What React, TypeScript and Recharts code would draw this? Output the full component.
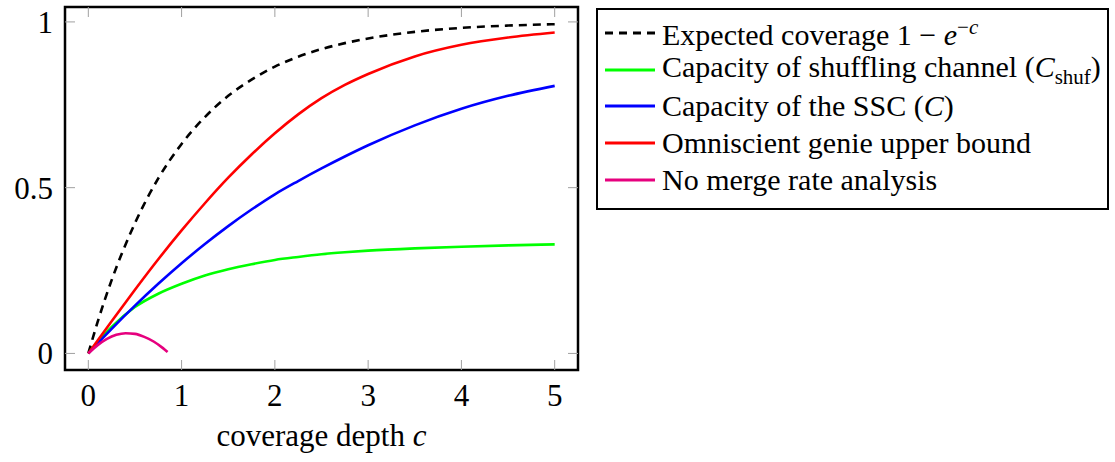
import React from 'react';
import {LineChart, Line, XAxis, YAxis, ReferenceArea} from 'recharts';

// coverage depth c sample points
const cMain = [0, 0.1, 0.25, 0.5, 0.75, 1, 1.25, 1.5, 1.75, 2, 2.25, 2.5, 2.75, 3, 3.5, 4, 4.5, 5];
const expectedCov = [0, 0.095, 0.221, 0.393, 0.528, 0.632, 0.713, 0.777, 0.826, 0.865, 0.895, 0.918, 0.936, 0.95, 0.97, 0.982, 0.989, 0.993];
const shufCap = [0, 0.034, 0.08, 0.14, 0.18, 0.21, 0.235, 0.254, 0.269, 0.282, 0.291, 0.299, 0.305, 0.31, 0.317, 0.322, 0.326, 0.329];
const sscCap = [0, 0.03, 0.074, 0.144, 0.21, 0.272, 0.33, 0.384, 0.434, 0.48, 0.52, 0.558, 0.594, 0.628, 0.688, 0.738, 0.777, 0.807];
const genieBound = [0, 0.039, 0.097, 0.192, 0.284, 0.371, 0.453, 0.53, 0.6, 0.664, 0.721, 0.77, 0.81, 0.843, 0.896, 0.931, 0.953, 0.968];

const cMerge = [0, 0.1, 0.2, 0.3, 0.4, 0.5, 0.6, 0.7, 0.8, 0.85];
const noMerge = [0, 0.025, 0.044, 0.056, 0.061, 0.059, 0.05, 0.036, 0.016, 0.004];

const xTicks = [0, 1, 2, 3, 4, 5];
const yTicks = [0, 0.5, 1];

const mainData = cMain.map((c, i) => ({
  c,
  expected: expectedCov[i],
  shuf: shufCap[i],
  ssc: sscCap[i],
  genie: genieBound[i],
}));
const mergeData = cMerge.map((c, i) => ({c, merge: noMerge[i]}));

const W = 1115;
const H = 462;
const LEFT = 65;
const RIGHT = 578;
const TOP = 7;
const BOTTOM = 370;
const FONT = '"Liberation Serif", "Times New Roman", serif';
const TICK_GREY = '#a0a0a0';

const XTick = (props: any) => {
  const {x, payload} = props;
  return (
    <g>
      <line x1={x} x2={x} y1={BOTTOM} y2={BOTTOM - 10} stroke={TICK_GREY} strokeWidth={1} />
      <line x1={x} x2={x} y1={TOP} y2={TOP + 10} stroke={TICK_GREY} strokeWidth={1} />
      <text x={x} y={406} textAnchor="middle" style={{fontFamily: FONT}} fontSize={31} fill="#000">
        {payload.value}
      </text>
    </g>
  );
};

const YTick = (props: any) => {
  const {y, payload} = props;
  return (
    <g>
      <line x1={LEFT} x2={LEFT + 10} y1={y} y2={y} stroke={TICK_GREY} strokeWidth={1} />
      <line x1={RIGHT} x2={RIGHT - 10} y1={y} y2={y} stroke={TICK_GREY} strokeWidth={1} />
      <text x={53} y={y + 11} textAnchor="end" style={{fontFamily: FONT}} fontSize={31} fill="#000">
        {payload.value}
      </text>
    </g>
  );
};

const legendItems = [
  {color: '#000', dashed: true, label: <>Expected coverage 1 − <i>e</i><sup style={{fontSize: '0.7em'}}>−<i>c</i></sup></>},
  {color: '#00ff00', dashed: false, label: <>Capacity of shuffling channel (<i>C</i><sub style={{fontSize: '0.7em'}}>shuf</sub>)</>},
  {color: '#0000ff', dashed: false, label: <>Capacity of the SSC (<i>C</i>)</>},
  {color: '#ff0000', dashed: false, label: <>Omniscient genie upper bound</>},
  {color: '#e6007e', dashed: false, label: <>No merge rate analysis</>},
];

export default function App() {
  return (
    <div style={{position: 'absolute', left: 0, top: 0, width: W, height: H, background: '#fff', fontFamily: FONT}}>
      <LineChart width={W} height={H} margin={{top: TOP, right: W - RIGHT, left: 10, bottom: 0}}>
        <XAxis
          dataKey="c"
          type="number"
          domain={[-0.25, 5.25]}
          ticks={xTicks}
          allowDataOverflow
          axisLine={false}
          tickLine={false}
          tick={<XTick />}
          height={H - BOTTOM}
          interval={0}
        />
        <YAxis
          type="number"
          domain={[-0.05, 1.045]}
          ticks={yTicks}
          allowDataOverflow
          axisLine={false}
          tickLine={false}
          tick={<YTick />}
          width={LEFT - 10}
          interval={0}
        />
        <ReferenceArea x1={-0.25} x2={5.25} y1={-0.05} y2={1.045} fill="none" stroke="#000" strokeWidth={2.5} />
        <Line data={mainData} dataKey="expected" type="monotone" stroke="#000" strokeWidth={2.6} strokeDasharray="8 6" dot={false} isAnimationActive={false} />
        <Line data={mainData} dataKey="shuf" type="monotone" stroke="#00ff00" strokeWidth={2.6} dot={false} isAnimationActive={false} />
        <Line data={mainData} dataKey="ssc" type="monotone" stroke="#0000ff" strokeWidth={2.6} dot={false} isAnimationActive={false} />
        <Line data={mainData} dataKey="genie" type="monotone" stroke="#ff0000" strokeWidth={2.6} dot={false} isAnimationActive={false} />
        <Line data={mergeData} dataKey="merge" type="monotone" stroke="#e6007e" strokeWidth={2.6} dot={false} isAnimationActive={false} />
      </LineChart>
      <div style={{position: 'absolute', left: 0, width: 643, top: 418, textAlign: 'center', fontFamily: FONT, fontSize: 31}}>
        coverage depth <i>c</i>
      </div>
      <div
        style={{
          position: 'absolute',
          left: 596,
          top: 8,
          width: 513,
          height: 202,
          border: '2.5px solid #000',
          fontFamily: FONT,
          fontSize: 30,
          paddingTop: 5,
          boxSizing: 'border-box',
        }}
      >
        {legendItems.map((it, i) => (
          <div key={i} style={{display: 'flex', alignItems: 'center', height: 36.6, whiteSpace: 'nowrap'}}>
            <svg width={64} height={10} style={{flex: 'none'}}>
              <line
                x1={7}
                x2={57}
                y1={5}
                y2={5}
                stroke={it.color}
                strokeWidth={2.8}
                strokeDasharray={it.dashed ? '8 6' : undefined}
              />
            </svg>
            <span style={{lineHeight: 1}}>{it.label}</span>
          </div>
        ))}
      </div>
    </div>
  );
}
